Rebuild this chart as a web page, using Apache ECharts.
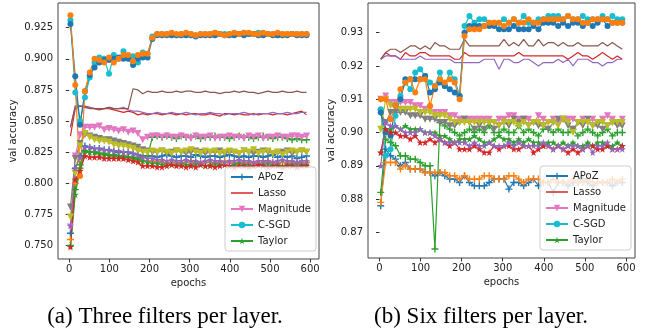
<!DOCTYPE html>
<html>
<head>
<meta charset="utf-8">
<script src="https://cdn.jsdelivr.net/npm/echarts@6/dist/echarts.min.js"></script>
<style>
html, body { margin: 0; padding: 0; background: #fff; }
#chart { width: 645px; height: 333px; }
</style>
</head>
<body>
<div id="chart"></div>
<script>
// sampled epochs (every 12 epochs)
const epochs = [3,15,27,39,51,63,75,87,99,111,123,135,147,159,171,183,195,207,219,231,243,255,267,279,291,303,315,327,339,351,363,375,387,399,411,423,435,447,459,471,483,495,507,519,531,543,555,567,579,591]

const xTicks = [0, 100, 200, 300, 400, 500, 600]
const yTicksA = [0.750, 0.775, 0.800, 0.825, 0.850, 0.875, 0.900, 0.925]
const yTicksB = [0.87, 0.88, 0.89, 0.90, 0.91, 0.92, 0.93]
const methods = ["APoZ", "Lasso", "Magnitude", "C-SGD", "Taylor"]

// (a) three filters per layer
const aApoz1 = [0.760,0.812,0.822,0.830,0.829,0.828,0.828,0.827,0.827,0.826,0.825,0.825,0.825,0.824,0.823,0.822,0.822,
  0.822,0.821,0.822,0.823,0.822,0.821,0.822,0.822,0.821,0.823,0.822,0.821,0.822,0.822,0.821,0.822,0.823,0.822,0.821,0.822,0.821,0.822,0.822,0.821,0.822,0.823,0.821,0.822,0.821,0.822,0.820,0.821,0.822]
const aApoz2 = [0.755,0.800,0.812,0.826,0.825,0.825,0.824,0.823,0.823,0.822,0.822,0.821,0.821,0.820,0.819,0.818,0.818,
  0.817,0.818,0.817,0.816,0.817,0.817,0.816,0.817,0.818,0.817,0.816,0.817,0.817,0.816,0.817,0.818,0.817,0.816,0.817,0.817,0.816,0.817,0.816,0.817,0.818,0.817,0.816,0.817,0.816,0.817,0.817,0.816,0.817]
const aApoz3 = [0.750,0.795,0.815,0.826,0.825,0.825,0.824,0.824,0.823,0.823,0.822,0.822,0.821,0.821,0.820,0.821,0.822,
  0.837,0.838,0.837,0.838,0.837,0.836,0.838,0.837,0.837,0.838,0.836,0.837,0.837,0.838,0.837,0.837,0.836,0.837,0.838,0.837,0.837,0.836,0.837,0.838,0.837,0.836,0.837,0.837,0.836,0.835,0.836,0.835,0.835]
const aLasso1 = [0.838,0.860,0.862,0.862,0.861,0.860,0.859,0.860,0.860,0.859,0.858,0.857,0.858,0.857,0.855,0.856,0.855,
  0.856,0.856,0.855,0.856,0.856,0.855,0.856,0.855,0.856,0.856,0.855,0.855,0.856,0.855,0.854,0.856,0.856,0.855,0.856,0.855,0.855,0.856,0.855,0.856,0.856,0.855,0.856,0.856,0.855,0.856,0.857,0.858,0.855]
const aLasso2 = [0.845,0.862,0.862,0.861,0.861,0.860,0.860,0.860,0.861,0.860,0.860,0.861,0.859,0.858,0.858,0.857,0.856,
  0.856,0.857,0.856,0.856,0.857,0.856,0.856,0.857,0.856,0.855,0.856,0.856,0.857,0.856,0.856,0.855,0.856,0.856,0.856,0.857,0.856,0.855,0.856,0.856,0.856,0.857,0.856,0.856,0.857,0.856,0.856,0.857,0.857]
const aLasso3 = [0.845,0.862,0.862,0.861,0.860,0.860,0.860,0.860,0.861,0.860,0.860,0.860,0.860,0.876,0.875,0.872,0.874,
  0.873,0.873,0.874,0.873,0.873,0.874,0.873,0.874,0.874,0.873,0.873,0.874,0.873,0.873,0.872,0.873,0.873,0.874,0.873,0.874,0.873,0.873,0.872,0.873,0.874,0.873,0.873,0.874,0.873,0.873,0.874,0.873,0.873]
const aMag1 = [0.765,0.822,0.839,0.845,0.845,0.845,0.846,0.843,0.844,0.843,0.842,0.843,0.841,0.842,0.840,0.835,0.837,
  0.838,0.838,0.837,0.838,0.837,0.837,0.838,0.837,0.836,0.838,0.837,0.837,0.838,0.836,0.837,0.837,0.838,0.837,0.837,0.836,0.838,0.837,0.838,0.836,0.837,0.837,0.838,0.837,0.837,0.838,0.838,0.837,0.838]
const aMag2 = [0.781,0.820,0.832,0.839,0.838,0.837,0.836,0.835,0.835,0.834,0.833,0.832,0.831,0.830,0.829,0.827,0.826,
  0.825,0.825,0.826,0.824,0.825,0.826,0.825,0.824,0.825,0.826,0.825,0.824,0.825,0.825,0.826,0.824,0.825,0.825,0.824,0.826,0.825,0.824,0.825,0.826,0.825,0.824,0.825,0.825,0.826,0.824,0.825,0.826,0.825]
const aMag3 = [0.773,0.808,0.830,0.840,0.837,0.835,0.834,0.834,0.833,0.831,0.830,0.830,0.829,0.828,0.826,0.825,0.825,
  0.826,0.825,0.826,0.825,0.824,0.826,0.825,0.826,0.827,0.825,0.824,0.826,0.825,0.826,0.824,0.825,0.826,0.825,0.824,0.826,0.825,0.827,0.824,0.825,0.826,0.824,0.825,0.823,0.825,0.826,0.825,0.826,0.825]
const aCsgd1 = [0.931,0.873,0.850,0.869,0.885,0.897,0.901,0.900,0.888,0.903,0.900,0.906,0.902,0.902,0.897,0.905,0.904,
  0.918,0.920,0.920,0.920,0.920,0.919,0.920,0.920,0.920,0.919,0.920,0.920,0.920,0.921,0.920,0.920,0.920,0.920,0.920,0.921,0.920,0.920,0.921,0.920,0.920,0.920,0.919,0.920,0.920,0.920,0.920,0.920,0.920]
const aCsgd2 = [0.928,0.886,0.847,0.874,0.887,0.893,0.897,0.899,0.899,0.900,0.901,0.900,0.900,0.895,0.900,0.901,0.901,
  0.916,0.919,0.919,0.919,0.919,0.919,0.919,0.919,0.919,0.918,0.919,0.919,0.919,0.919,0.920,0.919,0.919,0.919,0.920,0.919,0.920,0.920,0.919,0.919,0.920,0.919,0.919,0.919,0.919,0.920,0.919,0.919,0.919]
const aCsgd3 = [0.935,0.879,0.806,0.874,0.889,0.900,0.899,0.897,0.901,0.897,0.900,0.903,0.903,0.898,0.903,0.904,0.904,
  0.917,0.920,0.920,0.920,0.921,0.920,0.920,0.921,0.920,0.919,0.920,0.920,0.920,0.921,0.920,0.919,0.920,0.921,0.920,0.921,0.921,0.920,0.920,0.921,0.920,0.920,0.921,0.920,0.920,0.920,0.920,0.920,0.920]
const aTay1 = [0.750,0.791,0.812,0.826,0.825,0.825,0.824,0.823,0.822,0.822,0.822,0.821,0.821,0.820,0.819,0.818,0.817,
  0.816,0.816,0.815,0.816,0.815,0.815,0.816,0.815,0.815,0.816,0.815,0.814,0.815,0.816,0.815,0.815,0.814,0.815,0.816,0.815,0.815,0.814,0.815,0.815,0.816,0.815,0.815,0.814,0.815,0.815,0.816,0.815,0.815]
const aTay2 = [0.749,0.803,0.810,0.822,0.821,0.821,0.821,0.820,0.820,0.820,0.820,0.820,0.819,0.818,0.817,0.814,0.814,
  0.814,0.813,0.813,0.814,0.815,0.814,0.814,0.813,0.814,0.813,0.815,0.814,0.814,0.813,0.814,0.815,0.814,0.813,0.814,0.814,0.813,0.814,0.815,0.814,0.813,0.814,0.814,0.813,0.814,0.814,0.813,0.814,0.814]
const aTay3 = [0.766,0.812,0.821,0.829,0.829,0.828,0.828,0.827,0.827,0.826,0.826,0.825,0.825,0.824,0.823,0.821,0.820,
  0.820,0.819,0.819,0.818,0.819,0.818,0.818,0.819,0.818,0.818,0.817,0.818,0.819,0.818,0.818,0.817,0.818,0.818,0.819,0.818,0.818,0.817,0.818,0.818,0.818,0.817,0.818,0.819,0.818,0.818,0.817,0.818,0.818]

// (b) six filters per layer
const bApoz1 = [0.878,0.895,0.893,0.892,0.890,0.891,0.889,0.889,0.889,0.888,0.888,0.887,0.888,0.887,0.886,0.886,0.885,0.887,0.885,0.884,
  0.884,0.884,0.885,0.886,0.886,0.886,0.883,0.885,0.885,0.884,0.885,0.886,0.884,0.885,0.885,0.882,0.885,0.885,0.884,0.885,
  0.885,0.886,0.885,0.884,0.885,0.885,0.885,0.884,0.885,0.885]
const bApoz2 = [0.879,0.891,0.891,0.891,0.889,0.890,0.889,0.889,0.889,0.888,0.888,0.888,0.888,0.888,0.887,0.887,0.886,0.887,0.886,0.886,
  0.886,0.887,0.887,0.886,0.886,0.886,0.887,0.887,0.886,0.885,0.886,0.886,0.886,0.885,0.885,0.886,0.885,0.885,0.885,0.886,
  0.885,0.885,0.886,0.885,0.885,0.885,0.885,0.886,0.885,0.886]
const bApoz3 = [0.882,0.898,0.897,0.896,0.893,0.893,0.892,0.892,0.891,0.890,0.890,0.865,0.903,0.902,0.901,0.900,0.899,0.900,0.901,0.900,
  0.901,0.900,0.902,0.900,0.900,0.901,0.900,0.900,0.902,0.900,0.901,0.900,0.899,0.901,0.901,0.900,0.901,0.900,0.900,0.901,
  0.899,0.900,0.901,0.900,0.899,0.900,0.901,0.899,0.900,0.900]
const bLasso1 = [0.922,0.924,0.923,0.923,0.922,0.924,0.923,0.923,0.924,0.924,0.923,0.923,0.923,0.923,0.923,0.922,0.922,0.924,0.923,0.923,
  0.923,0.923,0.923,0.923,0.923,0.923,0.923,0.923,0.924,0.923,0.923,0.923,0.923,0.923,0.923,0.923,0.923,0.923,0.922,0.923,
  0.924,0.923,0.923,0.922,0.923,0.924,0.923,0.922,0.923,0.922]
const bLasso2 = [0.922,0.923,0.923,0.923,0.922,0.922,0.922,0.922,0.923,0.922,0.922,0.922,0.922,0.922,0.922,0.921,0.921,0.921,0.921,0.921,
  0.921,0.922,0.922,0.922,0.919,0.922,0.922,0.921,0.921,0.922,0.922,0.921,0.920,0.921,0.921,0.921,0.922,0.921,0.922,0.920,
  0.922,0.922,0.922,0.921,0.921,0.920,0.921,0.921,0.922,0.922]
const bLasso3 = [0.922,0.924,0.925,0.925,0.924,0.925,0.926,0.926,0.925,0.926,0.925,0.927,0.926,0.926,0.925,0.925,0.925,0.928,0.926,0.926,
  0.926,0.926,0.926,0.926,0.926,0.928,0.926,0.927,0.926,0.928,0.926,0.926,0.928,0.926,0.927,0.927,0.926,0.927,0.926,0.926,
  0.927,0.926,0.926,0.926,0.926,0.927,0.926,0.927,0.926,0.925]
const bMag1 = [0.910,0.911,0.909,0.909,0.909,0.909,0.909,0.908,0.908,0.907,0.907,0.906,0.906,0.906,0.905,0.905,0.904,0.904,0.904,0.904,
  0.904,0.904,0.904,0.903,0.904,0.904,0.905,0.905,0.904,0.904,0.904,0.903,0.905,0.904,0.903,0.904,0.903,0.904,0.904,0.904,
  0.903,0.904,0.903,0.904,0.903,0.904,0.905,0.904,0.903,0.904]
const bMag2 = [0.906,0.903,0.906,0.906,0.906,0.906,0.905,0.905,0.905,0.904,0.904,0.904,0.903,0.903,0.902,0.902,0.903,0.904,0.903,0.901,
  0.902,0.901,0.903,0.901,0.902,0.903,0.902,0.904,0.903,0.904,0.902,0.903,0.902,0.902,0.901,0.903,0.904,0.904,0.902,0.901,
  0.903,0.902,0.904,0.902,0.902,0.901,0.902,0.903,0.902,0.902]
const bMag3 = [0.901,0.910,0.908,0.908,0.907,0.907,0.907,0.907,0.906,0.906,0.906,0.905,0.905,0.905,0.904,0.903,0.903,0.903,0.903,0.903,
  0.903,0.903,0.903,0.903,0.902,0.903,0.903,0.903,0.902,0.903,0.902,0.903,0.903,0.902,0.903,0.903,0.902,0.904,0.903,0.900,
  0.903,0.903,0.903,0.902,0.903,0.903,0.902,0.903,0.903,0.903]
const bCsgd1 = [0.907,0.893,0.895,0.905,0.911,0.915,0.913,0.918,0.919,0.917,0.915,0.914,0.918,0.914,0.918,0.916,0.911,
  0.932,0.935,0.933,0.934,0.934,0.933,0.933,0.933,0.934,0.933,0.934,0.933,0.935,0.933,0.933,0.934,0.934,0.935,0.935,0.935,0.934,0.935,0.934,0.934,0.935,0.934,0.934,0.934,0.935,0.934,0.935,0.934,0.934]
const bCsgd2 = [0.906,0.900,0.899,0.908,0.910,0.916,0.916,0.916,0.916,0.917,0.912,0.913,0.915,0.914,0.913,0.912,0.911,
  0.930,0.932,0.932,0.932,0.932,0.932,0.932,0.931,0.931,0.931,0.932,0.931,0.931,0.931,0.932,0.931,0.933,0.933,0.933,0.932,0.933,0.932,0.933,0.933,0.932,0.933,0.932,0.933,0.934,0.932,0.933,0.933,0.933]
const bCsgd3 = [0.910,0.910,0.904,0.908,0.913,0.915,0.916,0.912,0.916,0.916,0.908,0.914,0.916,0.915,0.916,0.915,0.910,
  0.929,0.931,0.931,0.931,0.932,0.933,0.933,0.933,0.932,0.933,0.934,0.933,0.933,0.934,0.933,0.933,0.934,0.934,0.934,0.934,0.934,0.935,0.934,0.934,0.933,0.933,0.934,0.934,0.934,0.934,0.933,0.933,0.933]
const bTay1 = [0.894,0.901,0.901,0.902,0.901,0.902,0.901,0.901,0.901,0.900,0.900,0.900,0.899,0.899,0.898,0.897,0.898,0.898,0.898,0.899,
  0.898,0.897,0.897,0.898,0.899,0.898,0.898,0.897,0.898,0.897,0.898,0.897,0.897,0.896,0.897,0.897,0.896,0.897,0.896,0.897,
  0.896,0.896,0.897,0.896,0.897,0.897,0.896,0.896,0.897,0.896]
const bTay2 = [0.894,0.901,0.900,0.900,0.899,0.899,0.898,0.899,0.897,0.897,0.898,0.897,0.898,0.897,0.896,0.897,0.895,0.895,0.895,0.896,
  0.895,0.894,0.894,0.896,0.895,0.896,0.896,0.895,0.895,0.896,0.896,0.894,0.895,0.896,0.896,0.895,0.896,0.895,0.894,0.895,
  0.894,0.895,0.896,0.896,0.895,0.895,0.896,0.895,0.895,0.896]
const bTay3 = [0.890,0.903,0.902,0.902,0.901,0.900,0.900,0.900,0.901,0.900,0.900,0.899,0.898,0.897,0.897,0.897,0.897,0.897,0.896,0.897,
  0.896,0.896,0.897,0.896,0.896,0.896,0.897,0.896,0.897,0.896,0.896,0.896,0.896,0.897,0.896,0.895,0.896,0.895,0.896,0.896,
  0.896,0.895,0.896,0.894,0.896,0.896,0.897,0.895,0.895,0.895]

// matplotlib tab10
const C = {
  blue: "#1f77b4", orange: "#ff7f0e", green: "#2ca02c", red: "#d62728", purple: "#9467bd",
  brown: "#8c564b", pink: "#e377c2", gray: "#7f7f7f", olive: "#bcbd22", cyan: "#17becf",
}
const MARK = {
  plus: { symbol: "path://M-1,-5H1V-1H5V1H1V5H-1V1H-5V-1H-1Z", size: 7, rotate: 0 },
  tri: { symbol: "triangle", size: 7, rotate: 180 },
  circle: { symbol: "circle", size: 6, rotate: 0 },
  star: { symbol: "path://M0,-10L2.35,-3.24L9.51,-3.09L3.8,1.24L5.88,8.09L0,4L-5.88,8.09L-3.8,1.24L-9.51,-3.09L-2.35,-3.24Z", size: 7, rotate: 0 },
  none: { symbol: "none", size: 0, rotate: 0 },
}
// plain line icon for the legend (invisible top/bottom edges keep the band thin)
const LINE_ICON = "path://M0,0H22V0.01H0ZM0,3.2H22V4.8H0ZM0,8H22V8.01H0Z"

const mk = (name, vals, color, mark, idx) => {
  const m = MARK[mark]
  return {
    name: name,
    type: "line",
    xAxisIndex: idx,
    yAxisIndex: idx,
    data: epochs.map((e, i) => [e, vals[i]]),
    symbol: m.symbol,
    symbolSize: m.size,
    symbolRotate: m.rotate,
    showSymbol: mark !== "none",
    color: color,
    lineStyle: { width: 1.2, color: color },
    itemStyle: { color: color },
    emphasis: { disabled: true },
    animation: false,
  }
}

const panel = (idx, s) => [
  mk("APoZ", s[0], C.blue, "plus", idx),
  mk("APoZ-2", s[1], C.orange, "plus", idx),
  mk("APoZ-3", s[2], C.green, "plus", idx),
  mk("Lasso", s[3], C.red, "none", idx),
  mk("Lasso-2", s[4], C.purple, "none", idx),
  mk("Lasso-3", s[5], C.brown, "none", idx),
  mk("Magnitude", s[6], C.pink, "tri", idx),
  mk("Magnitude-2", s[7], C.gray, "tri", idx),
  mk("Magnitude-3", s[8], C.olive, "tri", idx),
  mk("C-SGD", s[9], C.cyan, "circle", idx),
  mk("C-SGD-2", s[10], C.blue, "circle", idx),
  mk("C-SGD-3", s[11], C.orange, "circle", idx),
  mk("Taylor", s[12], C.green, "star", idx),
  mk("Taylor-2", s[13], C.red, "star", idx),
  mk("Taylor-3", s[14], C.purple, "star", idx),
]

const FONT = "DejaVu Sans"
const tickStyle = { show: true, inside: false, length: 3.5, lineStyle: { color: "#333", width: 1 } }

const xAxisOf = (idx) => ({
  type: "value", gridIndex: idx, min: -28, max: 622,
  name: "epochs", nameLocation: "middle", nameGap: 19,
  nameTextStyle: { fontFamily: FONT, fontSize: 10, color: "#222" },
  axisLine: { show: false },
  axisTick: Object.assign({ customValues: xTicks }, tickStyle),
  axisLabel: { customValues: xTicks, fontFamily: FONT, fontSize: 10, color: "#222", margin: 5 },
  splitLine: { show: false },
})
const yAxisOf = (idx, min, max, ticks, dec, gap) => ({
  type: "value", gridIndex: idx, min: min, max: max,
  name: "val accuracy", nameLocation: "middle", nameGap: gap,
  nameTextStyle: { fontFamily: FONT, fontSize: 10, color: "#222" },
  axisLine: { show: false },
  axisTick: Object.assign({ customValues: ticks }, tickStyle),
  axisLabel: { customValues: ticks, fontFamily: FONT, fontSize: 10, color: "#222", margin: 5,
    formatter: (v) => v.toFixed(dec) },
  splitLine: { show: false },
})
const legendOf = (left, top) => ({
  data: methods.map((m) => (m === "Lasso" ? { name: m, icon: LINE_ICON } : { name: m })),
  orient: "vertical", left: left, top: top,
  itemWidth: 22, itemHeight: 8, itemGap: 4,
  padding: [4, 5, 4, 5],
  backgroundColor: "rgba(255,255,255,0.8)", borderColor: "#cccccc", borderWidth: 1, borderRadius: 3,
  textStyle: { fontFamily: FONT, fontSize: 10, color: "#222", lineHeight: 12 },
  selectedMode: false,
})

const chart = echarts.init(document.getElementById("chart"), null, { renderer: "canvas" })
chart.setOption({
  animation: false,
  grid: [
    { left: 58, top: 3, width: 261, height: 256, show: true, borderColor: "#444", borderWidth: 1, backgroundColor: "transparent" },
    { left: 368, top: 3, width: 267, height: 255, show: true, borderColor: "#444", borderWidth: 1, backgroundColor: "transparent" },
  ],
  xAxis: [xAxisOf(0), xAxisOf(1)],
  yAxis: [
    yAxisOf(0, 0.7393, 0.9448, yTicksA, 3, 40),
    yAxisOf(1, 0.8623, 0.9389, yTicksB, 2, 32),
  ],
  legend: [legendOf(225, 167), legendOf(540, 166)],
  series: [
    ...panel(0, [aApoz1, aApoz2, aApoz3, aLasso1, aLasso2, aLasso3, aMag1, aMag2, aMag3, aCsgd1, aCsgd2, aCsgd3, aTay1, aTay2, aTay3]),
    ...panel(1, [bApoz1, bApoz2, bApoz3, bLasso1, bLasso2, bLasso3, bMag1, bMag2, bMag3, bCsgd1, bCsgd2, bCsgd3, bTay1, bTay2, bTay3]),
  ],
  graphic: [
    { type: "text", x: 165, y: 305, style: { text: "(a) Three filters per layer.", font: "23px 'Liberation Serif'", fill: "#000", align: "center" } },
    { type: "text", x: 481, y: 305, style: { text: "(b) Six filters per layer.", font: "23px 'Liberation Serif'", fill: "#000", align: "center" } },
  ],
})
</script>
</body>
</html>
